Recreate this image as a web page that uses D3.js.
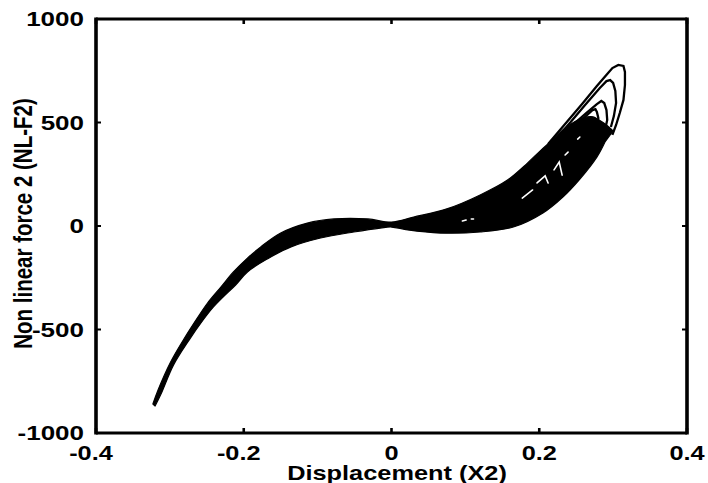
<!DOCTYPE html>
<html>
<head>
<meta charset="utf-8">
<script src="https://cdn.jsdelivr.net/npm/d3@7"></script>
<style>
  html, body { margin: 0; padding: 0; background: #fff; }
  svg { display: block; }
  text { font-family: "Liberation Sans", Arial, Helvetica, sans-serif; font-weight: bold; fill: #000; }
</style>
</head>
<body>
<svg id="chart" width="708" height="483"></svg>
<script>
// Axis ticks
const xTicks = [-0.4, -0.2, 0, 0.2, 0.4];
const yTicks = [-1000, -500, 0, 500, 1000];
const xLabel = "Displacement (X2)";
const yLabel = "Non linear force 2 (NL-F2)";

// Envelope of the phase trajectory: upper edge (left to right)
const bandUpper = [
  [-0.323, -860], [-0.316, -792], [-0.299, -657], [-0.281, -546], [-0.262, -440],
  [-0.249, -372], [-0.231, -295], [-0.214, -222], [-0.195, -155], [-0.177, -101],
  [-0.150, -34], [-0.114, 14], [-0.078, 34], [-0.032, 34], [0.000, 19],
  [0.030, 43], [0.076, 84], [0.120, 150], [0.157, 222], [0.184, 304],
  [0.201, 362], [0.219, 420], [0.232, 464], [0.245, 498], [0.255, 517],
  [0.265, 527], [0.273, 527], [0.281, 512], [0.291, 488], [0.300, 459]
];
// Lower edge (right to left)
const bandLower = [
  [0.289, 406], [0.278, 333], [0.255, 227], [0.232, 140], [0.205, 63],
  [0.165, -5], [0.120, -29], [0.066, -34], [0.022, -19], [0.000, -5],
  [-0.015, -10], [-0.051, -29], [-0.096, -58], [-0.136, -101], [-0.168, -159],
  [-0.195, -222], [-0.211, -285], [-0.228, -343], [-0.241, -391], [-0.255, -454],
  [-0.274, -551], [-0.295, -671], [-0.312, -812], [-0.320, -870]
];
// Outer cycles near the peak displacement
const loops = [
  [[0.212, 396], [0.235, 493], [0.258, 589], [0.278, 676], [0.292, 734], [0.299, 763],
   [0.307, 778], [0.314, 773], [0.316, 744], [0.316, 681], [0.314, 609], [0.309, 546],
   [0.304, 488], [0.299, 440]],
  [[0.226, 435], [0.242, 500], [0.262, 585], [0.282, 667], [0.291, 700], [0.296, 705],
   [0.300, 691], [0.303, 652], [0.304, 594], [0.301, 531], [0.297, 478]],
  [[0.226, 430], [0.242, 478], [0.262, 541], [0.278, 589], [0.284, 604], [0.288, 594],
   [0.291, 560], [0.292, 512], [0.289, 464]],
  [[0.226, 401], [0.242, 457], [0.262, 527], [0.272, 560], [0.276, 565], [0.278, 551],
   [0.280, 522], [0.278, 464]]
];
// Small openings left between inner cycles
const gaps = [
  [[0.220, 271], [0.227, 309], [0.231, 246]],
  [[0.197, 208], [0.208, 242], [0.212, 208]],
  [[0.177, 135], [0.191, 174]],
  [[0.235, 343], [0.239, 357]],
  [[0.252, 420], [0.255, 430]],
  [[0.096, 24], [0.101, 29]],
  [[0.108, 34], [0.111, 34]]
];

const svg = d3.select("#chart");
const plotL = 96, plotR = 687, plotT = 19, plotB = 433;
const x = d3.scaleLinear().domain([-0.4, 0.4]).range([plotL, plotR]);
const y = d3.scaleLinear().domain([-1000, 1000]).range([plotB, plotT]);
const SX = 1.3; // horizontal glyph stretch

const line = d3.line().x(d => x(d[0])).y(d => y(d[1]));
const smooth = d3.line().x(d => x(d[0])).y(d => y(d[1])).curve(d3.curveCatmullRom.alpha(0.5));

// Filled envelope
svg.append("path")
  .attr("d", smooth(bandUpper) + smooth(bandLower).replace(/^M/, "L") + "Z")
  .attr("fill", "#000")
  .attr("stroke", "#000")
  .attr("stroke-width", 1.2)
  .attr("stroke-linejoin", "round");

// Outer cycles
svg.append("g").selectAll("path").data(loops).join("path")
  .attr("d", line)
  .attr("fill", "none")
  .attr("stroke", "#000")
  .attr("stroke-width", 2.3)
  .attr("stroke-linejoin", "miter");

// Openings inside the envelope
svg.append("g").selectAll("path").data(gaps).join("path")
  .attr("d", line)
  .attr("fill", "none")
  .attr("stroke", "#fff")
  .attr("stroke-width", 1.6)
  .attr("stroke-linecap", "round");

// Axes box
const axisG = svg.append("g");
axisG.append("line").attr("x1", plotL).attr("x2", plotR).attr("y1", plotT).attr("y2", plotT)
  .attr("stroke", "#000").attr("stroke-width", 2.8);
axisG.append("line").attr("x1", plotL).attr("x2", plotR).attr("y1", plotB).attr("y2", plotB)
  .attr("stroke", "#000").attr("stroke-width", 3);
axisG.append("line").attr("x1", plotL).attr("x2", plotL).attr("y1", plotT - 1.4).attr("y2", plotB + 1.5)
  .attr("stroke", "#000").attr("stroke-width", 3.6);
axisG.append("line").attr("x1", plotR).attr("x2", plotR).attr("y1", plotT - 1.4).attr("y2", plotB + 1.5)
  .attr("stroke", "#000").attr("stroke-width", 3.6);

// Inward ticks on all four sides
const tl = 5;
xTicks.forEach(t => {
  axisG.append("line").attr("x1", x(t)).attr("x2", x(t)).attr("y1", plotB).attr("y2", plotB - tl)
    .attr("stroke", "#000").attr("stroke-width", 2.6);
  axisG.append("line").attr("x1", x(t)).attr("x2", x(t)).attr("y1", plotT).attr("y2", plotT + tl)
    .attr("stroke", "#000").attr("stroke-width", 2.6);
});
yTicks.forEach(t => {
  axisG.append("line").attr("x1", plotL).attr("x2", plotL + tl).attr("y1", y(t)).attr("y2", y(t))
    .attr("stroke", "#000").attr("stroke-width", 2);
  axisG.append("line").attr("x1", plotR).attr("x2", plotR - tl).attr("y1", y(t)).attr("y2", y(t))
    .attr("stroke", "#000").attr("stroke-width", 2);
});

// Tick labels
xTicks.forEach(t => {
  const s = String(t);
  const shift = s.startsWith("-") ? -5 : 0;
  svg.append("text")
    .attr("transform", `translate(${x(t) + shift},460) scale(${SX},1)`)
    .attr("text-anchor", "middle")
    .attr("font-size", 19.5)
    .text(s);
});
yTicks.forEach(t => {
  svg.append("text")
    .attr("transform", `translate(84,${y(t) + 7}) scale(${SX},1)`)
    .attr("text-anchor", "end")
    .attr("font-size", 20)
    .text(String(t));
});

// Axis titles
svg.append("text")
  .attr("transform", `translate(397,480) scale(${SX},1)`)
  .attr("text-anchor", "middle")
  .attr("font-size", 19.5)
  .text(xLabel);
svg.append("text")
  .attr("transform", `translate(32,223.5) scale(${SX},1) rotate(-90)`)
  .attr("text-anchor", "middle")
  .attr("font-size", 20.5)
  .text(yLabel);
</script>
</body>
</html>
